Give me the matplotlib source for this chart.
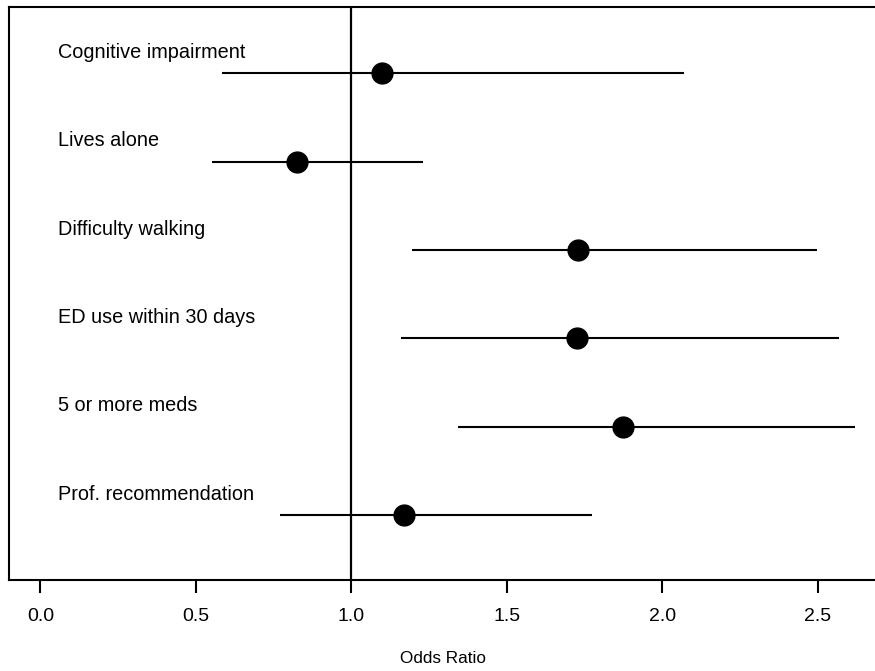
import matplotlib
matplotlib.use('Agg')
import matplotlib.pyplot as plt
import numpy as np

plt.rcParams['font.family'] = ['Liberation Sans', 'DejaVu Sans']

labels = ['Cognitive impairment', 'Lives alone', 'Difficulty walking',
          'ED use within 30 days', '5 or more meds', 'Prof. recommendation']
odds = [1.10, 0.826, 1.729, 1.726, 1.874, 1.168]
lower = [0.584, 0.552, 1.194, 1.161, 1.342, 0.771]
upper = [2.07, 1.232, 2.497, 2.568, 2.619, 1.774]
xticks = [0.0, 0.5, 1.0, 1.5, 2.0, 2.5]

fig = plt.figure(figsize=(8.75, 6.71), dpi=100)
ax = fig.add_axes([9/875, 1 - 580/671, 1 - 9/875 + 0.002, 573/671])

ypos = np.arange(len(labels), 0, -1)

ax.axvline(1.0, color='black', lw=1.6, zorder=1)
ax.hlines(ypos, lower, upper, color='black', lw=1.5, zorder=2)
ax.plot(odds, ypos, 'o', color='black', markersize=15, zorder=3)

for y, lab in zip(ypos, labels):
    ax.text(0.055, y + 0.235, lab, fontsize=14.3, ha='left', va='center')

ax.set_xlim(-0.101, 2.69)
ax.set_ylim(0.265, 6.75)
ax.set_xticks(xticks)
ax.set_xticklabels([f'{t:.1f}' for t in xticks])
ax.set_yticks([])
ax.tick_params(axis='x', direction='out', length=9, width=1.5, labelsize=14, pad=11)
for s in ['left', 'top', 'bottom']:
    ax.spines[s].set_linewidth(1.5)
ax.spines['right'].set_visible(False)
ax.set_xlabel('Odds Ratio', fontsize=12.3, labelpad=19)

fig.savefig('out.png', dpi=100)
